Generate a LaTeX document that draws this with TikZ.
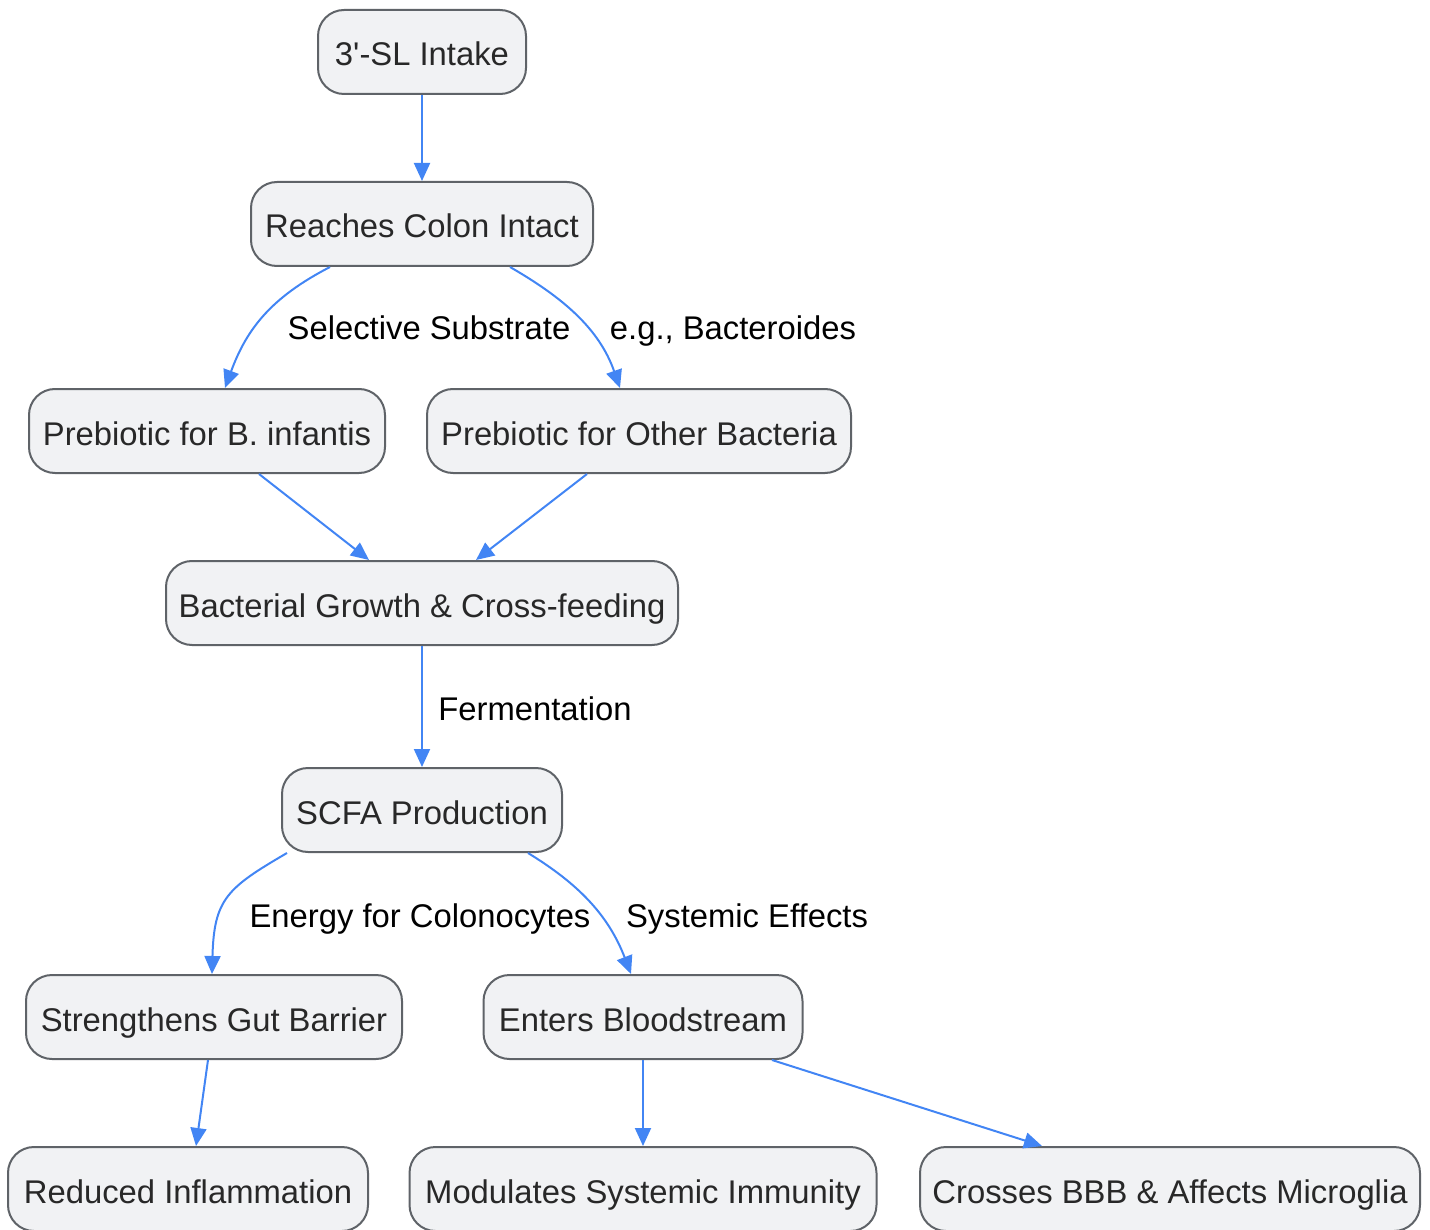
\documentclass[tikz,border=0pt]{standalone}
\usepackage{fontspec}
\setmainfont{Liberation Sans}[Ligatures=TeXOff]
\usetikzlibrary{calc,arrows.meta}
\definecolor{nodefill}{RGB}{241,242,244}
\definecolor{nodeline}{RGB}{95,99,104}
\definecolor{edgeblue}{RGB}{66,133,244}
\definecolor{nodetext}{RGB}{40,40,40}
\begin{document}
\begin{tikzpicture}[x=0.5pt,y=-0.5pt,
  box/.style={draw=nodeline,line width=1pt,fill=nodefill,rounded corners=13pt,
    minimum height=42pt,inner sep=0pt,text=nodetext,text height=18pt,text depth=4pt,
    font=\fontsize{16.4}{20}\selectfont},
  lbl/.style={inner sep=0pt,text=black,anchor=base,font=\fontsize{16.4}{20}\selectfont},
  link/.style={draw=edgeblue,line width=1pt,-{Triangle[length=9pt,width=8pt]}}]
\useasboundingbox (0,0) rectangle (1430,1230);
\node[box,minimum width=104pt] (n1) at (422,52) {3'-SL Intake};
\node[box,minimum width=171pt] (n2) at (422,224) {Reaches Colon Intact};
\node[box,minimum width=178pt] (n3) at (207,431) {Prebiotic for B. infantis};
\node[box,minimum width=212pt] (n4) at (639,431) {Prebiotic for Other Bacteria};
\node[box,minimum width=256pt] (n5) at (422,603) {Bacterial Growth \& Cross-feeding};
\node[box,minimum width=140pt] (n6) at (422,810) {SCFA Production};
\node[box,minimum width=188pt] (n7) at (214,1017) {Strengthens Gut Barrier};
\node[box,minimum width=159.5pt] (n8) at (643,1017) {Enters Bloodstream};
\node[box,minimum width=180pt] (n9) at (188,1189) {Reduced Inflammation};
\node[box,minimum width=233.5pt] (n10) at (643,1189) {Modulates Systemic Immunity};
\node[box,minimum width=250pt] (n11) at (1170,1189) {Crosses BBB \& Affects Microglia};

\node[lbl] (l1) at (429,340) {Selective Substrate};
\node[lbl] (l2) at (733,340) {e.g., Bacteroides};
\node[lbl] (l3) at (535,720) {Fermentation};
\node[lbl] (l4) at (420,927) {Energy for Colonocytes};
\node[lbl] (l5) at (747,927) {Systemic Effects};

\draw[link] (n1.south) -- (n2.north);
\draw[link] ($(n2.south)+(-92,0)$) .. controls ($(n2.south)+(-150,30)$) and ($(n3.north)+(40,-60)$) .. ($(n3.north)+(18,0)$);
\draw[link] ($(n2.south)+(88,0)$) .. controls ($(n2.south)+(140,30)$) and ($(n4.north)+(-40,-60)$) .. ($(n4.north)+(-19,0)$);
\draw[link] ($(n3.south)+(52,0)$) -- ($(n5.north)+(-53,0)$);
\draw[link] ($(n4.south)+(-52,0)$) -- ($(n5.north)+(54,0)$);
\draw[link] (n5.south) -- (n6.north);
\draw[link] ($(n6.south)+(-135,0)$) .. controls ($(n6.south)+(-195,35)$) and ($(n7.north)+(0,-75)$) .. ($(n7.north)+(-2,0)$);
\draw[link] ($(n6.south)+(106,0)$) .. controls ($(n6.south)+(155,30)$) and ($(n8.north)+(-35,-60)$) .. ($(n8.north)+(-12,0)$);
\draw[link] ($(n7.south)+(-6,0)$) -- ($(n9.north)+(8,0)$);
\draw[link] (n8.south) -- (n10.north);
\draw[link] ($(n8.south)+(129,0)$) -- ($(n11.north)+(-128,0)$);
\end{tikzpicture}
\end{document}
